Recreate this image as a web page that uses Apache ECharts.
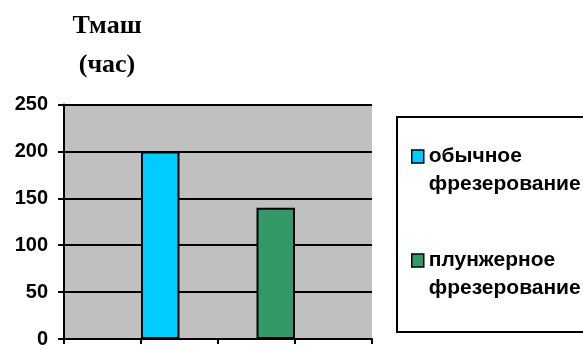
<!DOCTYPE html>
<html>
<head>
<meta charset="utf-8">
<script src="https://cdn.jsdelivr.net/npm/echarts@6/dist/echarts.min.js"></script>
<style>html,body{margin:0;padding:0;background:#fff;}#c{width:583px;height:349px;}</style>
</head>
<body>
<div id="c"></div>
<script>
const categories = ['', '', '', ''];
const seriesNames = ['обычное\nфрезерование', 'плунжерное\nфрезерование'];
const ordinaryValues = ['-', 200, '-', '-'];
const plungeValues = ['-', '-', 140, '-'];
const yTicks = { min: 0, max: 250, interval: 50 };
const titleText = 'Тмаш\n(час)';

const chart = echarts.init(document.getElementById('c'), null, { renderer: 'canvas' });
chart.setOption({
  animation: false,
  backgroundColor: '#ffffff',
  title: {
    text: titleText,
    left: 102,
    top: 2,
    textAlign: 'center',
    textStyle: { fontFamily: 'Liberation Serif', fontWeight: 'bold', fontSize: 26, lineHeight: 39, color: '#000' }
  },
  grid: { left: 64, right: 211, top: 104.5, bottom: 4, show: true, backgroundColor: '#c0c0c0', borderWidth: 0, containLabel: false },
  legend: {
    orient: 'vertical',
    left: 411,
    top: 114.5,
    padding: 0,
    itemGap: 20,
    itemWidth: 12,
    itemHeight: 13,
    icon: 'rect',
    itemStyle: { borderColor: '#000', borderWidth: 1.5 },
    formatter: function (name) { return '\n' + name; },
    textStyle: { fontFamily: 'Liberation Sans', fontWeight: 'bold', fontSize: 21, lineHeight: 28, color: '#000' },
    data: seriesNames
  },
  graphic: [{
    type: 'rect',
    shape: { x: 397, y: 117, width: 220, height: 215 },
    style: { fill: 'none', stroke: '#000', lineWidth: 2 },
    silent: true
  }],
  xAxis: {
    type: 'category',
    data: categories,
    boundaryGap: true,
    axisLine: { show: true, lineStyle: { color: '#000', width: 2 } },
    axisTick: { show: true, length: 5, lineStyle: { color: '#000', width: 2 } },
    axisLabel: { show: false },
    splitLine: { show: false }
  },
  yAxis: {
    type: 'value',
    min: yTicks.min,
    max: yTicks.max,
    interval: yTicks.interval,
    axisLine: { show: true, lineStyle: { color: '#000', width: 2 } },
    axisTick: { show: true, length: 6, lineStyle: { color: '#000', width: 2 } },
    axisLabel: { margin: 16, fontFamily: 'Liberation Sans', fontWeight: 'bold', fontSize: 20, color: '#000' },
    splitLine: { show: true, lineStyle: { color: '#000', width: 2 } }
  },
  series: [
    {
      name: seriesNames[0], type: 'bar', data: ordinaryValues,
      barGap: '0%', barCategoryGap: '0%',
      itemStyle: { color: '#00ccff', borderColor: '#000', borderWidth: 2 }
    },
    {
      name: seriesNames[1], type: 'bar', data: plungeValues,
      barGap: '0%', barCategoryGap: '0%',
      itemStyle: { color: '#339966', borderColor: '#000', borderWidth: 2 }
    }
  ]
});
</script>
</body>
</html>
